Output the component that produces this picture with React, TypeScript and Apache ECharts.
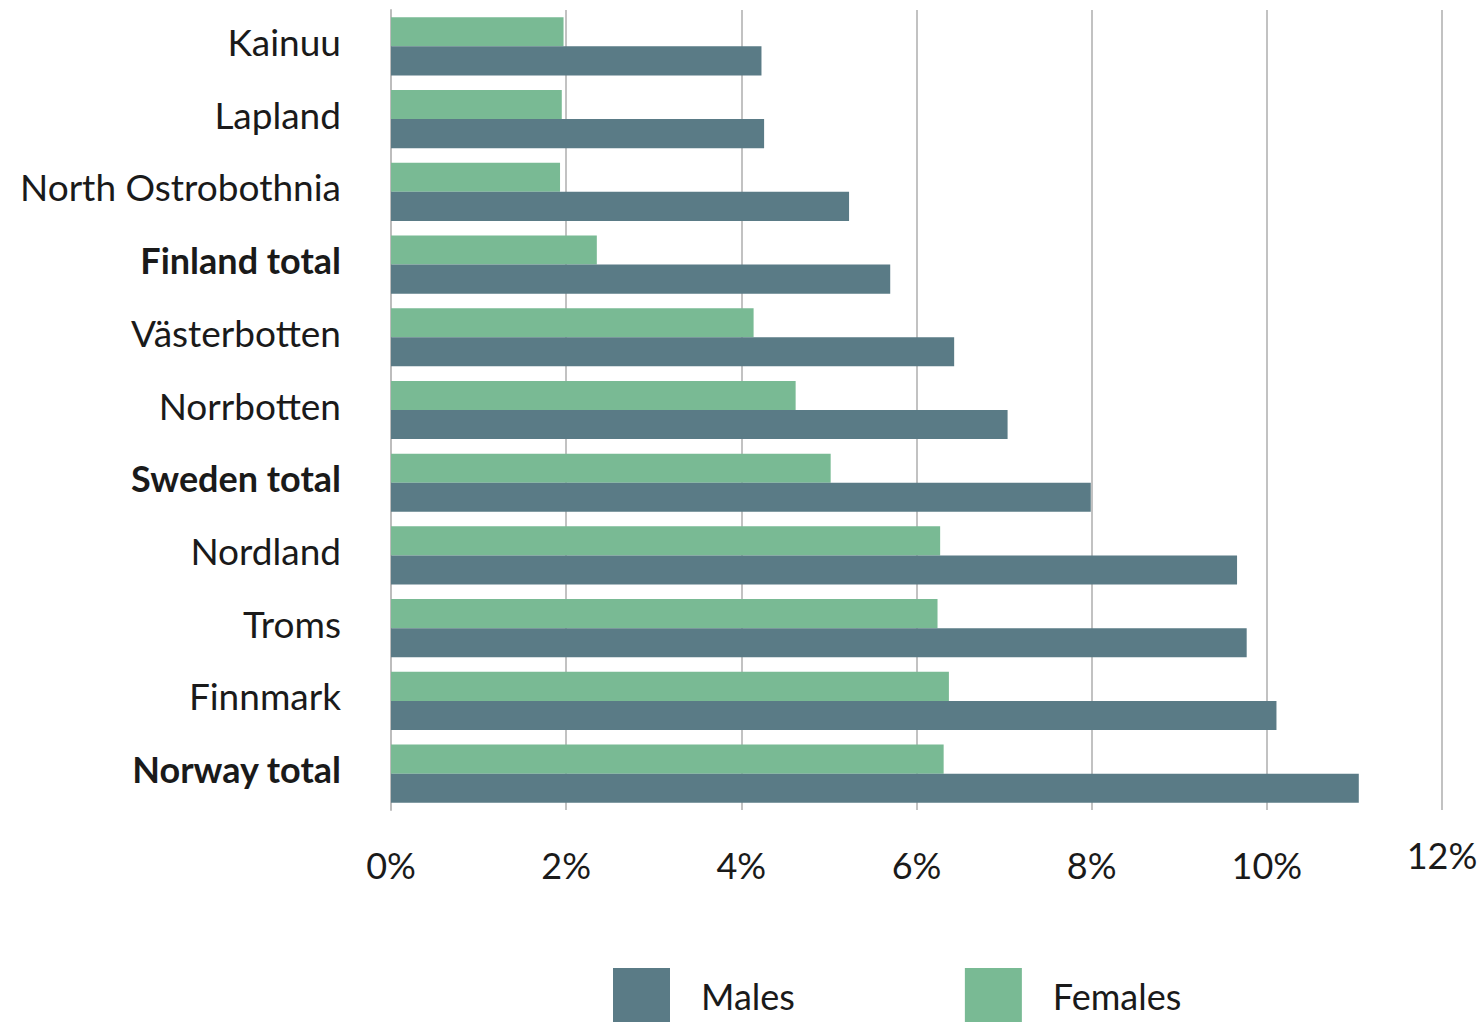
import React, { useEffect, useRef } from "react";
import * as echarts from "echarts";

const categories = [
  "Kainuu",
  "Lapland",
  "North Ostrobothnia",
  "Finland total",
  "Västerbotten",
  "Norrbotten",
  "Sweden total",
  "Nordland",
  "Troms",
  "Finnmark",
  "Norway total",
];
const boldCategories = ["Finland total", "Sweden total", "Norway total"];
const females = [1.97, 1.95, 1.93, 2.35, 4.14, 4.62, 5.02, 6.27, 6.24, 6.37, 6.31];
const males = [4.23, 4.26, 5.23, 5.7, 6.43, 7.04, 7.99, 9.66, 9.77, 10.11, 11.05];

const FONT = "Lato, 'Noto Sans', sans-serif";

export default function App() {
  const ref = useRef<HTMLDivElement>(null);
  useEffect(() => {
    document.body.style.margin = "0";
    const chart = echarts.init(ref.current!, null, { renderer: "svg" });
    chart.setOption({
      animation: false,
      backgroundColor: "#ffffff",
      grid: { left: 391, right: 41, top: 10, bottom: 212, containLabel: false },
      legend: {
        data: ["Males", "Females"],
        left: 608,
        top: 963,
        itemWidth: 57,
        itemHeight: 55,
        itemGap: 170,
        icon: "rect",
        textStyle: {
          fontFamily: FONT,
          fontSize: 36,
          color: "#1a1a1a",
          padding: [0, 0, 0, 26],
        },
      },
      xAxis: {
        type: "value",
        min: 0,
        max: 12,
        interval: 2,
        axisLine: { show: false },
        axisTick: { show: false },
        splitLine: { show: true, lineStyle: { color: "#c2c2c2", width: 2 } },
        axisLabel: {
          margin: 29,
          formatter: (v: number) => (v === 12 ? "{b|" + v + "%}" : "{a|" + v + "%}"),
          rich: {
            a: { fontFamily: FONT, fontSize: 36, color: "#1a1a1a", lineHeight: 52 },
            b: { fontFamily: FONT, fontSize: 36, color: "#1a1a1a", lineHeight: 32 },
          },
        },
      },
      yAxis: {
        type: "category",
        data: categories,
        inverse: true,
        axisLine: { show: true, lineStyle: { color: "#bdbdbd", width: 2 } },
        axisTick: { show: false },
        axisLabel: {
          margin: 50,
          formatter: (v: string) =>
            boldCategories.includes(v) ? "{b|" + v + "}" : "{a|" + v + "}",
          rich: {
            a: {
              fontFamily: FONT,
              fontSize: 37,
              color: "#1a1a1a",
              padding: [0, 0, 10, 0],
            },
            b: {
              fontFamily: FONT,
              fontSize: 36,
              color: "#1a1a1a",
              fontWeight: "bold",
              padding: [0, 0, 10, 0],
            },
          },
        },
      },
      series: [
        {
          name: "Females",
          type: "bar",
          data: females,
          itemStyle: { color: "#79ba94" },
          barGap: "0%",
          barCategoryGap: "20%",
        },
        {
          name: "Males",
          type: "bar",
          data: males,
          itemStyle: { color: "#5a7b86" },
          barGap: "0%",
          barCategoryGap: "20%",
        },
      ],
    });
    return () => chart.dispose();
  }, []);
  return <div ref={ref} style={{ width: 1483, height: 1022 }} />;
}
